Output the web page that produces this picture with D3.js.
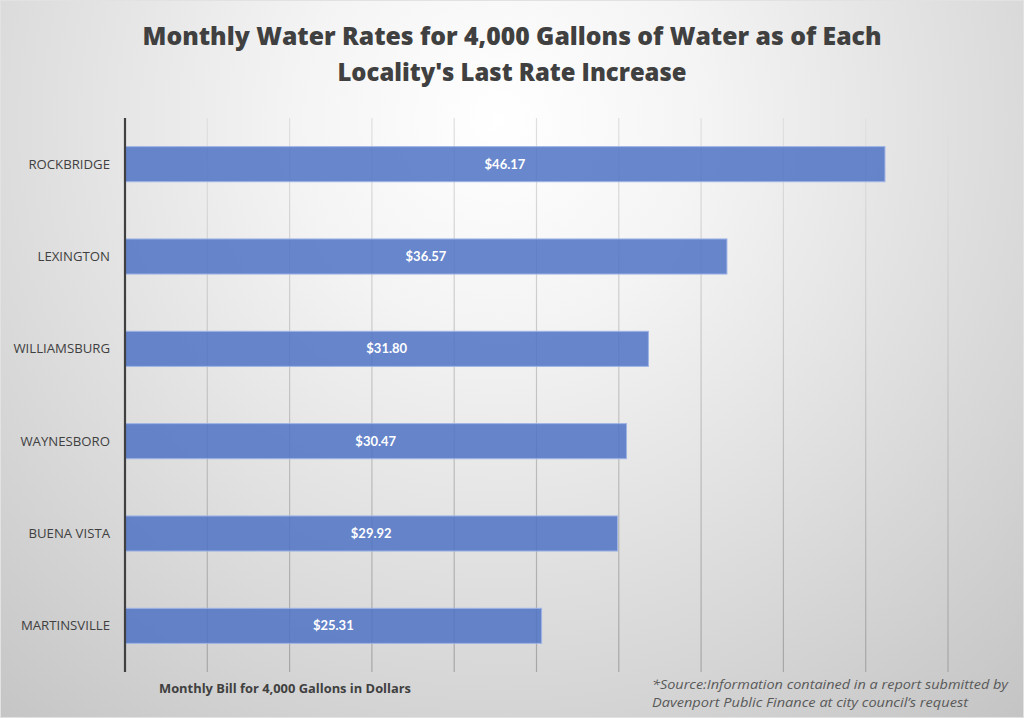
<!DOCTYPE html>
<html><head><meta charset="utf-8">
<script src="https://cdn.jsdelivr.net/npm/d3@7"></script>
<style>html,body{margin:0;padding:0;background:#fff}svg{display:block}</style>
</head><body><svg id="c" width="1024" height="718"></svg>
<script>
const categories = ["ROCKBRIDGE","LEXINGTON","WILLIAMSBURG","WAYNESBORO","BUENA VISTA","MARTINSVILLE"];
const values = [46.17, 36.57, 31.80, 30.47, 29.92, 25.31];
const valueLabels = ["$46.17","$36.57","$31.80","$30.47","$29.92","$25.31"];
const xTicks = [0,5,10,15,20,25,30,35,40,45,50];
const titleLines = ["Monthly Water Rates for 4,000 Gallons of Water as of Each","Locality's Last Rate Increase"];
const axisTitle = "Monthly Bill for 4,000 Gallons in Dollars";
const sourceLines = ["*Source:Information contained in a report submitted by","Davenport Public Finance at city council\u2019s request"];

const svg = d3.select("#c");
const W = 1024, H = 718;
const defs = svg.append("defs");
const g = defs.append("radialGradient").attr("id","bg")
  .attr("gradientUnits","userSpaceOnUse").attr("cx",500).attr("cy",120).attr("r",820)
  .attr("fx",500).attr("fy",120);
g.append("stop").attr("offset","0%").attr("stop-color","#ffffff");
g.append("stop").attr("offset","25%").attr("stop-color","#f4f4f4");
g.append("stop").attr("offset","100%").attr("stop-color","#c2c2c2");
svg.append("rect").attr("width",W).attr("height",H).attr("fill","url(#bg)");
svg.append("rect").attr("x",0.5).attr("y",0.5).attr("width",W-1).attr("height",H-1)
  .attr("fill","none").attr("stroke","#e2e2e2");

const x = d3.scaleLinear().domain([0,50]).range([125,948]);
const y = d3.scaleBand().domain(categories).range([118,672]).paddingInner(0.62).paddingOuter(0.31);

// gridlines
const gl = defs.append("linearGradient").attr("id","gl").attr("x1",0).attr("y1",0).attr("x2",0).attr("y2",1);
gl.append("stop").attr("offset","0%").attr("stop-color","#e0e0e0");
gl.append("stop").attr("offset","100%").attr("stop-color","#a6a6a6");

svg.append("g").selectAll("rect").data(xTicks.slice(1)).join("rect")
  .attr("x",d=>x(d)-0.6).attr("width",1.2).attr("y",118).attr("height",554)
  .attr("fill","url(#gl)");

// bars
svg.append("g").selectAll("rect").data(values).join("rect")
  .attr("x",x(0)).attr("y",(d,i)=>y(categories[i]))
  .attr("width",d=>x(d)-x(0)).attr("height",y.bandwidth())
  .attr("fill","#4e72c4").attr("fill-opacity",0.85)
  .attr("stroke","#9fb4e6").attr("stroke-width",1);

// axis line
svg.append("line").attr("x1",x(0)).attr("x2",x(0)).attr("y1",118).attr("y2",672)
  .attr("stroke","#404040").attr("stroke-width",2.2);

// value labels
svg.append("g").selectAll("text").data(values).join("text")
  .attr("x",d=>(x(d)+x(0))/2).attr("y",(d,i)=>y(categories[i])+y.bandwidth()/2)
  .attr("dy","0.35em").attr("text-anchor","middle")
  .attr("font-family","Lato, 'Open Sans', sans-serif").attr("font-weight","bold")
  .attr("font-size",13).attr("fill","#ffffff")
  .text((d,i)=>valueLabels[i]);

// category labels
svg.append("g").selectAll("text").data(categories).join("text")
  .attr("x",110).attr("y",d=>y(d)+y.bandwidth()/2).attr("dy","0.35em")
  .attr("text-anchor","end").attr("font-family","'Open Sans', Lato, sans-serif")
  .attr("font-size",13.2).attr("fill","#404040").text(d=>d);

// title
svg.append("g").selectAll("text").data(titleLines).join("text")
  .attr("x",512).attr("y",(d,i)=>45+i*36).attr("text-anchor","middle")
  .attr("font-family","'Open Sans', sans-serif").attr("font-weight","800")
  .attr("font-size",25).attr("fill","#404040")
  .attr("textLength",(d,i)=>i===0?739:349).attr("lengthAdjust","spacingAndGlyphs")
  .text(d=>d);

// axis title
svg.append("text").attr("x",159).attr("y",693)
  .attr("font-family","'Open Sans', sans-serif").attr("font-weight","bold")
  .attr("font-size",12).attr("fill","#404040")
  .attr("textLength",252).attr("lengthAdjust","spacingAndGlyphs").text(axisTitle);

// source
svg.append("g").selectAll("text").data(sourceLines).join("text")
  .attr("x",652).attr("y",(d,i)=>689+i*18)
  .attr("font-family","'Open Sans', sans-serif").attr("font-style","italic")
  .attr("font-size",13).attr("fill","#595959")
  .attr("textLength",(d,i)=>i===0?356:316).attr("lengthAdjust","spacingAndGlyphs")
  .text(d=>d);
</script></body></html>
